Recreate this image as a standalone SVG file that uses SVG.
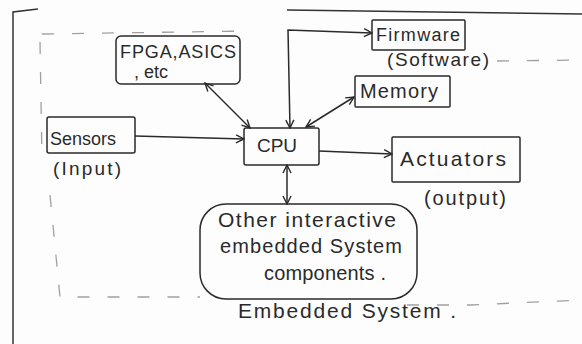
<svg xmlns="http://www.w3.org/2000/svg" width="582" height="344" viewBox="0 0 582 344">
<style>
.box{fill:none;stroke:#2a2a2a;stroke-width:1.5}
.frame{fill:none;stroke:#333;stroke-width:1.5}
.dash{fill:none;stroke:#a0a0a0;stroke-width:1.3;stroke-dasharray:12 18}
.con{fill:none;stroke:#2a2a2a;stroke-width:1.5}
text{font-family:"Liberation Sans",Arial,sans-serif;fill:#2a2a2a}
.s18{font-size:18px}.s19{font-size:19px}.s20{font-size:20px}.s21{font-size:21px}
</style>
<defs>
<marker id="ah" markerWidth="10" markerHeight="10" refX="9" refY="5" orient="auto-start-reverse" markerUnits="userSpaceOnUse">
<path d="M1,1 L9,5 L1,9" fill="none" stroke="#2a2a2a" stroke-width="1.4"/>
</marker>
</defs>
<rect width="582" height="344" fill="#fdfdfd"/>
<g id="frame">
<path class="frame" d="M13,344 L13,12 L38,9"/>
<path class="frame" d="M287,10 L582,14"/>
<path class="dash" d="M42,34 L250,31"/>
<path class="dash" d="M40,42 L42,160"/>
<path class="dash" d="M50,195 L60,297 L200,297"/>
<path class="dash" d="M407,305 L470,305 L582,300"/>
<path class="dash" d="M497,61 L582,60"/>
</g>
<g id="fpga">
<rect class="box" x="116" y="36" width="124" height="48" rx="5"/>
<text class="s18" x="120" y="58" textLength="116">FPGA,ASICS</text>
<text class="s18" x="134" y="78">, etc</text>
</g>
<g id="sensors">
<rect class="box" x="47" y="117" width="88" height="36" rx="2"/>
<text class="s18" x="50" y="145" textLength="66">Sensors</text>
<text class="s19" x="53" y="175" textLength="68">(Input)</text>
</g>
<g id="cpu">
<rect class="box" x="244" y="128" width="75" height="37" rx="2"/>
<text class="s19" x="257" y="152" textLength="40">CPU</text>
</g>
<g id="firmware">
<rect class="box" x="372" y="20" width="93" height="30" rx="1"/>
<text class="s18" x="376" y="41" textLength="84">Firmware</text>
<text class="s19" x="387" y="66" textLength="102">(Software)</text>
</g>
<g id="memory">
<rect class="box" x="355" y="76" width="95" height="31" rx="1"/>
<text class="s20" x="360" y="98" textLength="78">Memory</text>
</g>
<g id="actuators">
<rect class="box" x="392" y="137" width="128" height="45" rx="1"/>
<text class="s21" x="400" y="166" textLength="106">Actuators</text>
<text class="s20" x="424" y="205" textLength="82">(output)</text>
</g>
<g id="other">
<rect class="box" x="200" y="204" width="217" height="95" rx="26"/>
<text class="s21" x="218" y="227" textLength="178">Other interactive</text>
<text class="s20" x="220" y="253" textLength="182">embedded System</text>
<text class="s20" x="264" y="280" textLength="122">components .</text>
</g>
<g id="title">
<text class="s21" x="238" y="318" textLength="218">Embedded System .</text>
</g>
<g id="connectors">
<path class="con" d="M135,136 L244,139" marker-end="url(#ah)"/>
<path class="con" d="M205,83 L250,128" marker-start="url(#ah)" marker-end="url(#ah)"/>
<path class="con" d="M290,128 L288,30 L372,33" marker-start="url(#ah)" marker-end="url(#ah)"/>
<path class="con" d="M306,127 L354,97" marker-start="url(#ah)" marker-end="url(#ah)"/>
<path class="con" d="M319,151 L392,154" marker-end="url(#ah)"/>
<path class="con" d="M287,165 L287,204" marker-start="url(#ah)" marker-end="url(#ah)"/>
</g>
</svg>
